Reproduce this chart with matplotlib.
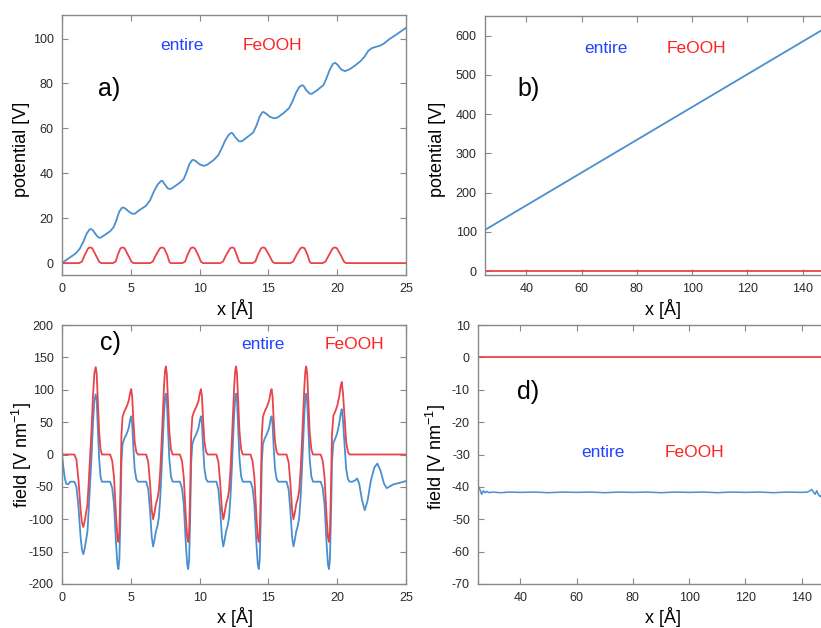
import matplotlib
matplotlib.use("Agg")
import matplotlib.pyplot as plt

plt.rcParams['font.family'] = ['Liberation Sans', 'DejaVu Sans']
plt.rcParams['mathtext.fontset'] = 'custom'
plt.rcParams['mathtext.rm'] = 'Liberation Sans'
plt.rcParams['mathtext.it'] = 'Liberation Sans:italic'
plt.rcParams['axes.unicode_minus'] = False

# ---------------- panel a: potential, 0-25 A ----------------
pot_entire_x = [0, 0.5, 1.0, 1.3, 1.55, 1.8, 2.0, 2.1, 2.25, 2.45, 2.65, 2.8, 3.1, 3.5, 3.75,
                3.95, 4.15, 4.35, 4.45, 4.6, 4.85, 5.1, 5.3, 5.6, 6.1, 6.4, 6.65, 6.95, 7.2, 7.3,
                7.5, 7.7, 7.9, 8.2, 8.6, 8.85, 9.05, 9.25, 9.45, 9.55, 9.75, 10.0, 10.3, 10.55,
                11.0, 11.35, 11.6, 11.85, 12.1, 12.3, 12.4, 12.6, 12.85, 13.05, 13.4, 13.9, 14.15,
                14.35, 14.55, 14.65, 14.85, 15.1, 15.4, 15.65, 16.1, 16.5, 16.75, 17.0, 17.25,
                17.45, 17.55, 17.75, 18.0, 18.15, 18.5, 19.0, 19.2, 19.45, 19.7, 19.85, 20.0, 20.3,
                20.55, 20.9, 21.3, 21.7, 22.0, 22.25, 22.5, 22.8, 23.1, 23.4, 23.8, 24.3, 24.7, 25.0]
pot_entire_y = [0, 2.2, 4.3, 6.5, 9.5, 13.2, 15.0, 15.2, 14.6, 12.8, 11.4, 11.3, 12.5, 14.2, 16.0,
                19.0, 22.8, 24.6, 24.8, 24.3, 23.0, 22.0, 22.0, 23.5, 25.5, 28.0, 31.5, 35.0, 36.6, 36.6,
                34.8, 33.2, 33.0, 34.2, 36.0, 37.5, 40.5, 44.0, 45.8, 46.0, 45.3, 44.0, 43.3, 43.8,
                45.8, 48.0, 51.0, 54.5, 57.0, 58.0, 57.8, 56.0, 54.3, 54.2, 55.8, 58.2, 61.5,
                65.0, 67.2, 67.3, 66.5, 65.2, 64.5, 64.8, 66.8, 69.0, 72.0, 75.8, 78.5,
                79.2, 79.0, 77.0, 75.5, 75.4, 76.8, 79.3, 82.0, 86.0, 88.8, 89.2, 88.5, 86.2,
                85.5, 86.3, 88.0, 90.0, 92.0, 94.5, 95.7, 96.3, 96.8, 97.8, 99.8, 101.8, 103.5, 104.8]

pot_feooh_x = [0, 1.25, 1.45, 1.65, 1.9, 2.05, 2.2, 2.45, 2.7, 2.85,
               3.7, 3.9, 4.05, 4.25, 4.4, 4.55, 4.8, 5.05, 5.2,
               6.4, 6.6, 6.83, 7.12, 7.27, 7.42, 7.65, 7.8, 7.9,
               8.75, 8.95, 9.12, 9.35, 9.5, 9.65, 9.9, 10.1, 10.25,
               11.5, 11.7, 11.93, 12.22, 12.37, 12.52, 12.7, 12.88, 13.0,
               13.85, 14.05, 14.23, 14.47, 14.62, 14.77, 15.05, 15.3, 15.45,
               16.6, 16.8, 17.04, 17.33, 17.48, 17.63, 17.85, 18.0, 18.1,
               18.95, 19.15, 19.4, 19.68, 19.83, 19.98, 20.25, 20.5, 20.65, 25.0]
pot_feooh_y = [0, 0, 0.7, 3.6, 6.6, 7.0, 6.6, 3.6, 0.6, 0,
               0, 0.7, 3.6, 6.6, 7.0, 6.6, 3.6, 0.6, 0,
               0, 0.7, 3.6, 6.6, 7.0, 6.6, 3.6, 0.6, 0,
               0, 0.7, 3.6, 6.6, 7.0, 6.6, 3.6, 0.6, 0,
               0, 0.7, 3.6, 6.6, 7.0, 6.6, 3.6, 0.6, 0,
               0, 0.7, 3.6, 6.6, 7.0, 6.6, 3.6, 0.6, 0,
               0, 0.7, 3.6, 6.6, 7.0, 6.6, 3.6, 0.6, 0,
               0, 0.7, 3.6, 6.6, 7.0, 6.6, 3.6, 0.6, 0, 0]

# ---------------- panel b: potential, 25-150 A ----------------
potb_x = [25, 150]
potb_entire_y = [105, 627]
potb_feooh_y = [0, 0]

# ---------------- panel c: field, 0-25 A ----------------
field_feooh_x = [0, 0.9, 1.05, 1.2, 1.35, 1.45, 1.55, 1.65, 1.75, 1.85, 1.95, 2.05, 2.15, 2.25, 2.35, 2.45, 2.52, 2.6, 2.7, 2.8, 2.9,
                 3.5, 3.65, 3.78, 3.93, 4.03, 4.1, 4.17, 4.24, 4.32, 4.4, 4.52, 4.7, 4.85, 4.95, 5.03, 5.1, 5.18, 5.28, 5.4, 5.52,
                 6.12, 6.27, 6.40, 6.52, 6.62, 6.72, 6.82, 6.94, 7.04, 7.14, 7.22, 7.32, 7.42, 7.49, 7.55, 7.62, 7.70, 7.80, 7.92, 8.04,
                 8.57, 8.72, 8.85, 9.00, 9.10, 9.17, 9.24, 9.31, 9.39, 9.47, 9.59, 9.77, 9.92, 10.02, 10.10, 10.17, 10.25, 10.35, 10.47, 10.59,
                 11.22, 11.37, 11.50, 11.62, 11.72, 11.82, 11.92, 12.04, 12.14, 12.24, 12.32, 12.42, 12.52, 12.59, 12.65, 12.72, 12.80, 12.90, 13.02, 13.14,
                 13.70, 13.85, 13.98, 14.13, 14.23, 14.30, 14.37, 14.44, 14.52, 14.60, 14.72, 14.90, 15.05, 15.15, 15.23, 15.30, 15.38, 15.48, 15.60, 15.72,
                 16.32, 16.47, 16.60, 16.72, 16.82, 16.92, 17.02, 17.14, 17.24, 17.34, 17.42, 17.52, 17.62, 17.69, 17.75, 17.82, 17.90, 18.00, 18.12, 18.24,
                 18.80, 18.95, 19.08, 19.23, 19.33, 19.40, 19.47, 19.54, 19.62, 19.72, 19.85, 20.00, 20.15, 20.25, 20.33, 20.42, 20.53, 20.65, 20.78, 20.90,
                 25.0]
field_feooh_y = [0, 0, -8, -40, -85, -105, -112, -103, -90, -77, -40, 0, 40, 90, 125, 135, 125, 85, 35, 8, 0,
                 0, -10, -35, -96, -128, -135, -120, -60, 30, 58, 66, 74, 83, 95, 101, 90, 55, 20, 4, 0,
                 0, -12, -45, -85, -100, -90, -77, -68, -55, -25, 10, 60, 108, 130, 136, 124, 85, 35, 8, 0,
                 0, -10, -35, -96, -128, -135, -120, -60, 30, 58, 66, 74, 83, 95, 101, 90, 55, 20, 4, 0,
                 0, -12, -45, -85, -100, -90, -77, -68, -55, -25, 10, 60, 108, 130, 136, 124, 85, 35, 8, 0,
                 0, -10, -35, -96, -128, -135, -120, -60, 30, 58, 66, 74, 83, 95, 101, 90, 55, 20, 4, 0,
                 0, -12, -45, -85, -100, -90, -77, -68, -55, -25, 10, 60, 108, 130, 136, 124, 85, 35, 8, 0,
                 0, -10, -35, -96, -128, -135, -120, -60, 30, 60, 66, 75, 90, 105, 112, 95, 58, 20, 4, 0,
                 0]

field_entire_x = [0, 0.1, 0.2, 0.3, 0.45, 0.6, 0.9, 1.05, 1.2, 1.35, 1.45, 1.55, 1.65, 1.75, 1.85, 1.95, 2.05, 2.15, 2.25, 2.35, 2.45, 2.52, 2.6, 2.7, 2.8, 2.9,
                  3.5, 3.65, 3.78, 3.93, 4.03, 4.1, 4.17, 4.24, 4.32, 4.4, 4.52, 4.7, 4.85, 4.95, 5.03, 5.1, 5.18, 5.28, 5.4, 5.52,
                  6.12, 6.27, 6.40, 6.52, 6.62, 6.72, 6.82, 6.94, 7.04, 7.14, 7.22, 7.32, 7.42, 7.49, 7.55, 7.62, 7.70, 7.80, 7.92, 8.04,
                  8.57, 8.72, 8.85, 9.00, 9.10, 9.17, 9.24, 9.31, 9.39, 9.47, 9.59, 9.77, 9.92, 10.02, 10.10, 10.17, 10.25, 10.35, 10.47, 10.59,
                  11.22, 11.37, 11.50, 11.62, 11.72, 11.82, 11.92, 12.04, 12.14, 12.24, 12.32, 12.42, 12.52, 12.59, 12.65, 12.72, 12.80, 12.90, 13.02, 13.14,
                  13.70, 13.85, 13.98, 14.13, 14.23, 14.30, 14.37, 14.44, 14.52, 14.60, 14.72, 14.90, 15.05, 15.15, 15.23, 15.30, 15.38, 15.48, 15.60, 15.72,
                  16.32, 16.47, 16.60, 16.72, 16.82, 16.92, 17.02, 17.14, 17.24, 17.34, 17.42, 17.52, 17.62, 17.69, 17.75, 17.82, 17.90, 18.00, 18.12, 18.24,
                  18.80, 18.95, 19.08, 19.23, 19.33, 19.40, 19.47, 19.54, 19.62, 19.72, 19.85, 20.00, 20.15, 20.25, 20.33, 20.42, 20.53, 20.65, 20.78, 20.90,
                  21.1, 21.3, 21.45, 21.6, 21.8, 22.0, 22.2, 22.45, 22.7, 22.92, 23.15, 23.4, 23.6, 23.85, 24.1, 24.5, 25.0]
field_entire_y = [0, -20, -36, -45, -46, -42, -42, -50, -82, -127, -147, -154, -145, -132, -119, -82, -42, -2, 48, 83, 93, 83, 43, -7, -34, -42,
                  -42, -52, -77, -138, -170, -177, -162, -102, -12, 16, 24, 32, 41, 53, 59, 48, 13, -22, -38, -42,
                  -42, -54, -87, -127, -142, -132, -119, -110, -97, -67, -32, 18, 66, 88, 94, 82, 43, -7, -34, -42,
                  -42, -52, -77, -138, -170, -177, -162, -102, -12, 16, 24, 32, 41, 53, 59, 48, 13, -22, -38, -42,
                  -42, -54, -87, -127, -142, -132, -119, -110, -97, -67, -32, 18, 66, 88, 94, 82, 43, -7, -34, -42,
                  -42, -52, -77, -138, -170, -177, -162, -102, -12, 16, 24, 32, 41, 53, 59, 48, 13, -22, -38, -42,
                  -42, -54, -87, -127, -142, -132, -119, -110, -97, -67, -32, 18, 66, 88, 94, 82, 43, -7, -34, -42,
                  -42, -52, -77, -138, -170, -177, -162, -102, -12, 18, 24, 33, 48, 63, 70, 53, 16, -22, -38, -42,
                  -42, -40, -37, -45, -70, -86, -72, -40, -20, -14, -25, -45, -52, -49, -46, -44, -41]

# ---------------- panel d: field, 25-150 A ----------------
fieldd_entire_x = [25, 25.6, 26.2, 26.8, 27.4, 28.0, 28.8, 30, 33, 36, 40, 45, 50, 55, 60, 65, 70, 75, 80,
                   85, 90, 95, 100, 105, 110, 115, 120, 125, 130, 135, 140, 142, 143, 143.6, 144.2, 144.8,
                   145.4, 146.0, 146.6, 147.5, 150]
fieldd_entire_y = [-39.8, -40.9, -42.3, -41.2, -41.8, -41.4, -41.8, -41.6, -41.8, -41.6, -41.7, -41.6, -41.8,
                   -41.6, -41.7, -41.6, -41.8, -41.6, -41.7, -41.6, -41.8, -41.6, -41.7, -41.6, -41.8, -41.6,
                   -41.7, -41.6, -41.8, -41.6, -41.7, -41.6, -41.2, -40.8, -41.6, -42.3, -41.2, -42.4, -43.0,
                   -42.0, -41.6]
fieldd_feooh_x = [25, 150]
fieldd_feooh_y = [0, 0]

# ---------------- styling ----------------
W, H = 821, 628
BLUE_LINE = '#4a8fcf'
RED_LINE = '#e8444a'
BLUE_TXT = '#2244ff'
RED_TXT = '#ff2222'
SPINE = '#888888'
TICKLBL = '#2a2a2a'

fig = plt.figure(figsize=(W / 100, H / 100), dpi=100)


def make_ax(l, r, t, b):
    ax = fig.add_axes([l / W, 1 - b / H, (r - l) / W, (b - t) / H])
    for s in ax.spines.values():
        s.set_color(SPINE)
        s.set_linewidth(1.0)
    ax.tick_params(direction='in', length=4, width=0.8, color=SPINE,
                   top=True, right=True, labelsize=9, labelcolor=TICKLBL, pad=6)
    return ax


def fig_text(x, y, s, color, size, rot=0):
    fig.text(x / W, 1 - y / H, s, color=color, fontsize=size, ha='center', va='center',
             rotation=rot)


# panel a
ax = make_ax(62, 406, 15, 275)
ax.plot(pot_entire_x, pot_entire_y, color=BLUE_LINE, lw=1.3)
ax.plot(pot_feooh_x, pot_feooh_y, color=RED_LINE, lw=1.3)
ax.set_xlim(0, 25)
ax.set_ylim(-5.3, 110.5)
ax.set_xticks([0, 5, 10, 15, 20, 25])
ax.set_yticks([0, 20, 40, 60, 80, 100])
fig_text(235, 309, 'x [Å]', 'black', 13)
fig_text(21.7, 149, 'potential [V]', 'black', 13, 90)
fig_text(108.7, 89.3, 'a)', 'black', 18)
fig_text(182, 45, 'entire', BLUE_TXT, 12.5)
fig_text(272.7, 45, 'FeOOH', RED_TXT, 12.5)

# panel b
ax = make_ax(485, 830.3, 15.7, 275)
ax.plot(potb_x, potb_entire_y, color=BLUE_LINE, lw=1.3)
ax.plot(potb_x, potb_feooh_y, color=RED_LINE, lw=1.3)
ax.set_xlim(25, 150)
ax.set_ylim(-10, 651)
ax.set_xticks([40, 60, 80, 100, 120, 140])
ax.set_yticks([0, 100, 200, 300, 400, 500, 600])
fig_text(663.3, 309.3, 'x [Å]', 'black', 13)
fig_text(437.3, 149, 'potential [V]', 'black', 13, 90)
fig_text(528.3, 89.3, 'b)', 'black', 18)
fig_text(605.7, 48.3, 'entire', BLUE_TXT, 12.5)
fig_text(696, 48.3, 'FeOOH', RED_TXT, 12.5)

# panel c
ax = make_ax(62, 406, 325, 584)
ax.plot(field_entire_x, field_entire_y, color=BLUE_LINE, lw=1.3)
ax.plot(field_feooh_x, field_feooh_y, color=RED_LINE, lw=1.3)
ax.set_xlim(0, 25)
ax.set_ylim(-200, 200)
ax.set_xticks([0, 5, 10, 15, 20, 25])
ax.set_yticks([-200, -150, -100, -50, 0, 50, 100, 150, 200])
fig_text(235, 617, 'x [Å]', 'black', 13)
fig_text(21.7, 455, 'field [V nm$^{-1}$]', 'black', 13, 90)
fig_text(110, 343.3, 'c)', 'black', 18)
fig_text(263.3, 344.3, 'entire', BLUE_TXT, 12.5)
fig_text(354.3, 344.3, 'FeOOH', RED_TXT, 12.5)

# panel d
ax = make_ax(478.3, 829.7, 325, 584)
ax.plot(fieldd_entire_x, fieldd_entire_y, color=BLUE_LINE, lw=1.1)
ax.plot(fieldd_feooh_x, fieldd_feooh_y, color=RED_LINE, lw=1.3)
ax.set_xlim(25, 150)
ax.set_ylim(-70, 10)
ax.set_xticks([40, 60, 80, 100, 120, 140])
ax.set_yticks([-70, -60, -50, -40, -30, -20, -10, 0, 10])
fig_text(663.3, 617, 'x [Å]', 'black', 13)
fig_text(436, 456.7, 'field [V nm$^{-1}$]', 'black', 13, 90)
fig_text(528.3, 391.7, 'd)', 'black', 18)
fig_text(603.3, 452.7, 'entire', BLUE_TXT, 12.5)
fig_text(694, 452.7, 'FeOOH', RED_TXT, 12.5)

fig.savefig('out.png', dpi=100)
